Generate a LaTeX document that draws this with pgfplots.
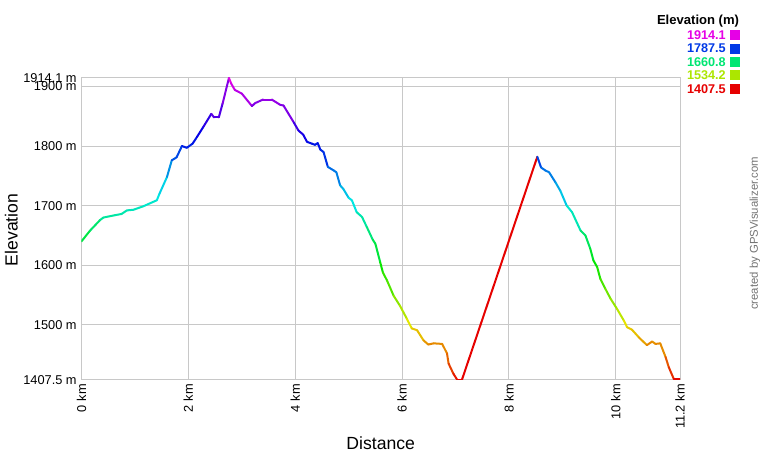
\documentclass[border=0pt]{standalone}
\usepackage{pgfplots}
\pgfplotsset{compat=1.18}
\usepackage{fontspec}
\setmainfont{Liberation Sans}
\definecolor{gridgray}{RGB}{200,200,200}
\definecolor{cMag}{RGB}{230,0,230}
\definecolor{cBlue}{RGB}{0,57,230}
\definecolor{cGreen}{RGB}{0,230,115}
\definecolor{cYel}{RGB}{172,230,0}
\definecolor{cRed}{RGB}{230,0,0}
\definecolor{credgray}{RGB}{115,115,115}

\pgfplotstableread{
x e
0 1640
0.16 1658
0.35 1676
0.41 1680
0.63 1684
0.75 1686
0.85 1692
0.97 1693
1.16 1699
1.41 1709
1.46 1720
1.60 1748
1.69 1776
1.78 1781
1.88 1800
1.97 1797
2.08 1804
2.16 1815
2.28 1832
2.43 1854
2.48 1848
2.57 1848
2.64 1871
2.76 1914.1
2.80 1905
2.87 1894
3.00 1888
3.19 1867
3.25 1872
3.40 1878
3.56 1878
3.72 1869
3.78 1868
3.97 1840
4.06 1826
4.15 1819
4.22 1807
4.31 1804
4.37 1802
4.42 1805
4.47 1794
4.53 1790
4.61 1765
4.72 1759
4.77 1756
4.84 1734
4.90 1728
5.00 1713
5.06 1709
5.15 1689
5.25 1681
5.34 1664
5.45 1643
5.50 1636
5.59 1605
5.64 1588
5.72 1574
5.84 1549
5.96 1532
6.09 1510
6.18 1494
6.28 1491
6.40 1474
6.49 1467
6.59 1469
6.75 1468
6.84 1452
6.87 1435
6.96 1418
7.03 1408
7.12 1408
8.53 1782
8.60 1764
8.68 1759
8.75 1756
8.87 1739
8.96 1725
9.08 1700
9.18 1689
9.34 1658
9.43 1650
9.52 1628
9.58 1608
9.65 1597
9.71 1577
9.80 1561
9.90 1544
10.02 1527
10.15 1507
10.21 1496
10.30 1492
10.43 1479
10.58 1466
10.68 1472
10.74 1468
10.83 1469
10.93 1446
10.99 1429
11.08 1410
11.2 1410
}\elevdata

\begin{document}
\begin{tikzpicture}[x=1pt,y=1pt]
\path[use as bounding box] (0,0) rectangle (570,345);
\begin{axis}[
  at={(61.1pt,60pt)}, anchor=south west,
  scale only axis, width=448.9pt, height=226.5pt,
  xmin=0, xmax=11.2, ymin=1407.5, ymax=1914.1,
  xtick={0,2,4,6,8,10,11.2},
  xticklabels={0 km,2 km,4 km,6 km,8 km,10 km,11.2 km},
  ytick={1407.5,1500,1600,1700,1800,1900,1914.1},
  yticklabels={1407.5 m,1500 m,1600 m,1700 m,1800 m,1900 m,1914.1 m},
  grid=major,
  major grid style={gridgray, line width=0.75pt},
  axis line style={gridgray, line width=0.75pt},
  major tick length=0pt,
  tick label style={font=\fontsize{9.6}{10}\selectfont, text=black},
  xticklabel style={rotate=90, anchor=east, inner xsep=3pt, inner ysep=0pt},
  yticklabel style={anchor=east, inner xsep=3.4pt, inner ysep=0pt},
  xlabel={Distance}, ylabel={Elevation},
  every axis x label/.style={at={(axis description cs:0.5,-0.2086)}, anchor=center, font=\fontsize{13.2}{15}\selectfont},
  every axis y label/.style={at={(axis description cs:-0.117,0.497)}, anchor=center, rotate=90, font=\fontsize{13.2}{15}\selectfont},
  colormap={gps}{rgb255=(230,0,0) rgb255=(230,230,0) rgb255=(0,230,0) rgb255=(0,230,230) rgb255=(0,0,230) rgb255=(230,0,230)},
  point meta min=1407.5, point meta max=1914.1,
]
\addplot[mesh, shader=flat corner, point meta=y, line width=1.5pt, line join=round, line cap=round] table[x=x, y=e] {\elevdata};
\end{axis}
% legend
\node[anchor=east, inner sep=0pt, font=\bfseries\fontsize{9.8}{11}\selectfont] at (554.5,329) {Elevation (m)};
\begin{scope}[font=\bfseries\fontsize{9.5}{11}\selectfont]
\node[anchor=east, inner sep=0pt, text=cMag] at (544.5,318.75) {1914.1};
\node[anchor=east, inner sep=0pt, text=cBlue] at (544.5,308.6) {1787.5};
\node[anchor=east, inner sep=0pt, text=cGreen] at (544.5,298.5) {1660.8};
\node[anchor=east, inner sep=0pt, text=cYel] at (544.5,288.5) {1534.2};
\node[anchor=east, inner sep=0pt, text=cRed] at (544.5,278.5) {1407.5};
\end{scope}
\fill[cMag] (547.5,315) rectangle (555,322.5);
\fill[cBlue] (547.5,304.85) rectangle (555,312.35);
\fill[cGreen] (547.5,294.75) rectangle (555,302.25);
\fill[cYel] (547.5,284.75) rectangle (555,292.25);
\fill[cRed] (547.5,274.75) rectangle (555,282.25);
\node[rotate=90, inner sep=0pt, text=credgray, font=\fontsize{8.5}{10}\selectfont] at (566.25,170) {created by GPSVisualizer.com};
\end{tikzpicture}
\end{document}
